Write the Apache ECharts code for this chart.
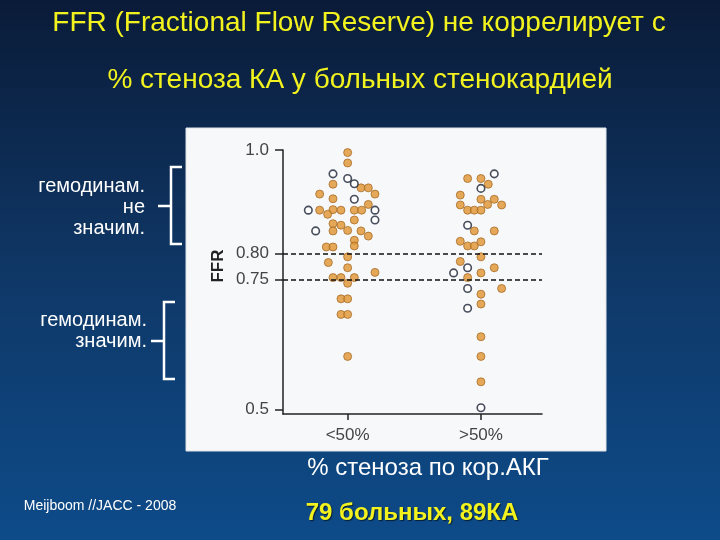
<!DOCTYPE html>
<html><head><meta charset="utf-8">
<script src="https://cdn.jsdelivr.net/npm/echarts@6/dist/echarts.min.js"></script>
<style>html,body{margin:0;padding:0;background:#0a1c3a}#c{width:720px;height:540px}</style>
</head><body><div id="c"></div>
<script>
// ---- data ----
const categories = ['<50%', '>50%'];
const yTickValues = [0.5, 0.75, 0.80, 1.0];
const yTickLabels = ['0.5', '0.75', '0.80', '1.0'];
const thresholds = [0.80, 0.75];
const titleLines = ['FFR (Fractional Flow Reserve) не коррелирует с', '% стеноза КА у больных стенокардией'];
const xAxisTitle = '% стеноза по кор.АКГ';
const yAxisTitle = 'FFR';
const sourceText = 'Meijboom //JACC - 2008';
const summaryText = '79 больных, 89КА';
const groupLabelTop = ['гемодинам.', 'не', 'значим.'];
const groupLabelBottom = ['гемодинам.', 'значим.'];

// <50% stenosis, filled dots (jitter offset from category, FFR)
const lowFilledJitter = [0, 0, -0.11, 0.10, 0.155, 0.205, -0.21, -0.11, 0.155, -0.21, -0.11, -0.05, 0.05, 0.105, -0.15, 0.05, -0.11, -0.05, -0.11, 0, 0.10, 0.155, 0.05, -0.16, -0.11, 0.05, 0, -0.145, 0, 0.205, -0.11, -0.05, 0.05, 0, -0.05, 0, -0.05, 0, 0];
const lowFilledFFR =    [0.995, 0.975, 0.934, 0.927, 0.927, 0.915, 0.915, 0.906, 0.895, 0.884, 0.885, 0.884, 0.884, 0.884, 0.876, 0.865, 0.858, 0.855, 0.844, 0.845, 0.844, 0.834, 0.826, 0.813, 0.813, 0.815, 0.794, 0.783, 0.773, 0.764, 0.754, 0.754, 0.754, 0.743, 0.713, 0.713, 0.683, 0.683, 0.602];
// <50% stenosis, open dots
const lowOpenJitter = [-0.11, 0, 0.05, 0.05, -0.295, 0.205, 0.205, -0.24];
const lowOpenFFR =    [0.954, 0.945, 0.935, 0.905, 0.884, 0.884, 0.865, 0.844];
// >50% stenosis, filled dots
const highFilledJitter = [-0.1, 0, 0.055, -0.155, 0, 0.1, -0.155, 0.05, 0.155, -0.1, -0.05, 0, -0.05, 0.1, -0.155, 0, -0.1, -0.05, 0, -0.155, 0.1, 0, -0.1, 0.155, 0, 0, 0, 0, 0];
const highFilledFFR =    [0.945, 0.945, 0.934, 0.913, 0.905, 0.905, 0.894, 0.895, 0.894, 0.884, 0.884, 0.884, 0.844, 0.844, 0.824, 0.823, 0.815, 0.815, 0.794, 0.785, 0.773, 0.763, 0.754, 0.733, 0.722, 0.703, 0.640, 0.602, 0.553];
// >50% stenosis, open dots
const highOpenJitter = [0.1, 0, -0.1, -0.1, -0.205, -0.1, -0.1, 0];
const highOpenFFR =    [0.954, 0.926, 0.855, 0.773, 0.763, 0.733, 0.695, 0.503];

// ---- build ----
function pts(catIndex, jit, ffr) {
  return ffr.map((v, i) => [catIndex + 1 + jit[i], v]);
}
const filledStyle = { color: '#df9430', borderColor: '#a86d28', borderWidth: 1 };
const openStyle = { color: '#ffffff', borderColor: '#1a2233', borderWidth: 1.6 };

const chart = echarts.init(document.getElementById('c'), null, { renderer: 'canvas' });
const fontFam = '"Liberation Sans", Arial, sans-serif';

function bracket(x, y1, y2, serif) {
  return {
    type: 'polyline', z: 10, silent: true,
    shape: { points: [[x + serif, y1], [x, y1], [x, y2], [x + serif, y2]] },
    style: { stroke: '#ffffff', lineWidth: 2.5, fill: null }
  };
}
function tick(x, y, len) {
  return { type: 'line', z: 10, silent: true, shape: { x1: x - len, y1: y, x2: x, y2: y }, style: { stroke: '#ffffff', lineWidth: 2.5 } };
}
function txt(x, y, text, size, color, align, weight, extra) {
  return Object.assign({
    type: 'text', z: 10, silent: true, x: x, y: y,
    style: Object.assign({ text: text, fill: color, font: (weight || 'normal') + ' ' + size + 'px ' + fontFam, textAlign: align || 'center', textVerticalAlign: 'middle' }, (extra && extra.styleExtra) || {})
  }, extra && extra.rotation !== undefined ? { rotation: extra.rotation } : {});
}

const option = {
  animation: false,
  backgroundColor: { type: 'linear', x: 0, y: 0, x2: 0, y2: 1, colorStops: [
    { offset: 0, color: '#0a1b38' }, { offset: 0.5, color: '#0f3766' }, { offset: 1, color: '#0d4b89' }] },
  grid: { left: 283, right: 178, top: 150, bottom: 126, containLabel: false },
  xAxis: {
    type: 'value', min: 0.515, max: 2.458,
    splitLine: { show: false },
    axisLine: { show: true, lineStyle: { color: '#222', width: 1.5 } },
    axisTick: { show: true, customValues: [1, 2], length: 6, lineStyle: { color: '#222', width: 1.5 } },
    axisLabel: { show: true, customValues: [1, 2], margin: 13, fontSize: 17, color: '#444', fontFamily: fontFam,
      formatter: v => categories[Math.round(v) - 1] }
  },
  yAxis: {
    type: 'value', min: 0.491, max: 1.0,
    splitLine: { show: false },
    axisLine: { show: true, onZero: false, lineStyle: { color: '#222', width: 1.5 } },
    axisTick: { show: true, customValues: yTickValues, length: 8, lineStyle: { color: '#222', width: 1.5 } },
    axisLabel: { show: true, customValues: yTickValues, margin: 14, fontSize: 17, color: '#444', fontFamily: fontFam,
      formatter: v => yTickLabels[yTickValues.findIndex(t => Math.abs(t - v) < 1e-6)] }
  },
  series: [
    { type: 'scatter', name: 'lowFilled', data: pts(0, lowFilledJitter, lowFilledFFR), symbolSize: 8, itemStyle: filledStyle,
      markLine: { silent: true, symbol: 'none', label: { show: false },
        lineStyle: { color: '#111', width: 1.6, type: [5, 3] },
        data: thresholds.map(v => ({ yAxis: v })) } },
    { type: 'scatter', name: 'lowOpen', data: pts(0, lowOpenJitter, lowOpenFFR), symbolSize: 7.5, itemStyle: openStyle },
    { type: 'scatter', name: 'highFilled', data: pts(1, highFilledJitter, highFilledFFR), symbolSize: 8, itemStyle: filledStyle },
    { type: 'scatter', name: 'highOpen', data: pts(1, highOpenJitter, highOpenFFR), symbolSize: 7.5, itemStyle: openStyle }
  ],
  graphic: [
    { type: 'rect', z: -10, silent: true, shape: { x: 186, y: 128, width: 420, height: 323 }, style: { fill: '#f7f8fa', stroke: '#dfe3e8', lineWidth: 1 } },
    txt(359, 23, titleLines[0], 28, '#f2f21e'),
    txt(360, 80, titleLines[1], 28, '#f2f21e'),
    txt(218, 266, yAxisTitle, 17, '#222', 'center', 'bold', { rotation: Math.PI / 2 }),
    txt(145, 186, groupLabelTop[0], 20, '#ffffff', 'right'),
    txt(145, 207, groupLabelTop[1], 20, '#ffffff', 'right'),
    txt(145, 228, groupLabelTop[2], 20, '#ffffff', 'right'),
    txt(147, 320, groupLabelBottom[0], 20, '#ffffff', 'right'),
    txt(147, 341, groupLabelBottom[1], 20, '#ffffff', 'right'),
    bracket(171, 167, 244, 11),
    tick(171, 206, 13),
    bracket(164, 302, 379, 11),
    tick(164, 341, 13),
    txt(428, 468, xAxisTitle, 24, '#ffffff'),
    txt(100, 506, sourceText, 14, '#ffffff'),
    txt(412, 513, summaryText, 24, '#f2f21e', 'center', 'bold', { styleExtra: { textShadowColor: 'rgba(0,0,0,0.6)', textShadowOffsetX: 1, textShadowOffsetY: 1, textShadowBlur: 1 } })
  ]
};
chart.setOption(option);
</script>
</body></html>
